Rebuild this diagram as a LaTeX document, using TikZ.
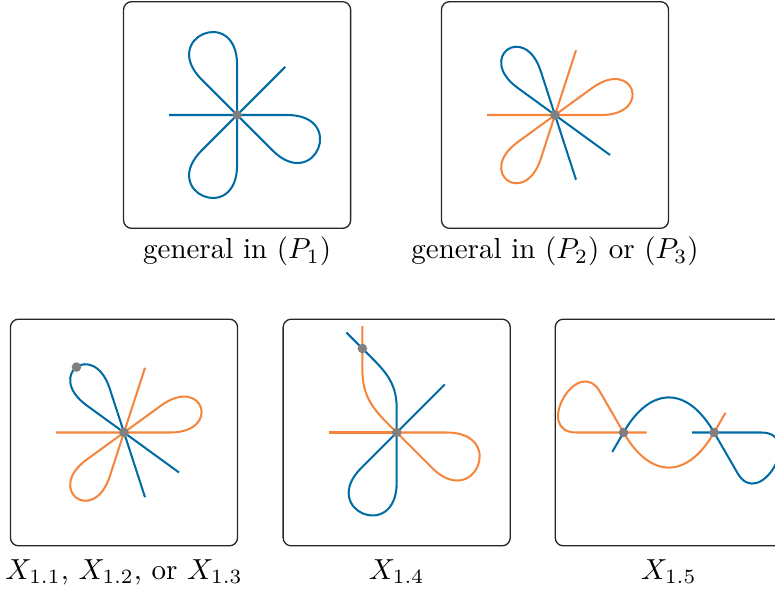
\documentclass[tikz,border=0pt]{standalone}
\usetikzlibrary{calc}
\definecolor{cblue}{HTML}{006BA4}
\definecolor{corange}{HTML}{F5843C}
\definecolor{cgray}{HTML}{808080}
\newcommand{\lobe}[5]{\draw[#1,rotate=#2] (0,0) -- (0:#4) .. controls (0:{#4+#5}) and (#3:{#4+#5}) .. (#3:#4) -- (0,0);}
\begin{document}
\begin{tikzpicture}[x=0.345pt,y=0.345pt,
  panel/.style={draw=black!85,line width=0.45pt,rounded corners=2.8pt,minimum width=78.35pt,minimum height=78.2pt,inner sep=0pt},
  bcurve/.style={cblue,line width=0.7pt},
  ocurve/.style={corange,line width=0.7pt},
  crossdot/.style={circle,fill=cgray,inner sep=0pt,minimum size=3.3pt},
  caption/.style={anchor=base,inner sep=0pt}]
\clip (0,0) rectangle (775,-592);
\path[use as bounding box] (0,0) rectangle (775,-592);

% boxes
\node[panel] (box1) at (237.1,-115) {};
\node[panel] (box2) at (555,-115) {};
\node[panel] (box3) at (124,-432.5) {};
\node[panel] (box4) at (396.7,-432.5) {};
\node[panel] (box5) at (668.8,-432.5) {};

% captions
\node[caption] (cap1) at ($(box1.south)+(0,-30)$) {general in $(P_1)$};
\node[caption] (cap2) at ($(box2.south)+(0,-30)$) {general in $(P_2)$ or $(P_3)$};
\node[caption] (cap3) at ($(box3.south)+(0,-33)$) {$X_{1.1}$, $X_{1.2}$, or $X_{1.3}$};
\node[caption] (cap4) at ($(box4.south)+(0,-33)$) {$X_{1.4}$};
\node[caption] (cap5) at ($(box5.south)+(0,-33)$) {$X_{1.5}$};

% panel 1
\begin{scope}[shift={(box1.center)}]
  \draw[bcurve] (180:68) -- (0,0) -- (45:68);
  \lobe{bcurve}{90}{45}{50}{60}
  \lobe{bcurve}{-45}{45}{50}{60}
  \lobe{bcurve}{225}{45}{50}{60}
  \node[crossdot] (o1) at (0,0) {};
\end{scope}

% panel 2
\begin{scope}[shift={(box2.center)}]
  \draw[ocurve] (180:68) -- (0,0) -- (72:68);
  \lobe{ocurve}{0}{36}{46}{52}
  \lobe{ocurve}{216}{36}{46}{52}
  \draw[bcurve] (288:68) -- (0,0) -- (324:68);
  \lobe{bcurve}{108}{36}{46}{52}
  \node[crossdot] (o2) at (0,0) {};
\end{scope}

% panel 3
\begin{scope}[shift={(box3.center)}]
  \draw[ocurve] (180:68) -- (0,0) -- (72:68);
  \lobe{ocurve}{0}{36}{46}{52}
  \lobe{ocurve}{216}{36}{46}{52}
  \draw[bcurve] (288:68) -- (0,0) -- (324:68);
  \draw[bcurve,rotate=108] (0,0) -- (0:46) .. controls (0:98) and (36:98) .. node[crossdot,pos=0.5] (d3) {} (36:46) -- (0,0);
  \node[crossdot] (o3) at (0,0) {};
\end{scope}

% panel 4
\begin{scope}[shift={(box4.center)}]
  \draw[ocurve] (180:68) -- (0,0);
  \lobe{ocurve}{-45}{45}{50}{60}
  \draw[bcurve] (0,0) -- (45:68);
  \lobe{bcurve}{225}{45}{50}{60}
  \coordinate (q4) at (-34.3,84);
  \draw[ocurve] (0,0) -- (135:12) .. controls (135:32) and (-34.3,36) .. (-34.3,62) -- (-34.3,106.3);
  \draw[bcurve] (0,0) -- (0,24) .. controls (0,52) and (-13.1,62.8) .. (q4) -- (-50.3,100);
  \node[crossdot] (o4) at (0,0) {};
  \node[crossdot] (d4) at (q4) {};
\end{scope}

% panel 5
\begin{scope}[shift={(box5.center)}]
  \coordinate (L) at (-45.3,0);
  \coordinate (R) at (45.3,0);
  \draw[ocurve] ($(L)+(0:23)$) -- (L) -- ($(L)+(180:47)$)
    .. controls ($(L)+(180:91)$) and ($(L)+(120:91)$) .. ($(L)+(120:47)$) -- (L)
    .. controls ($(L)+(-60:54)$) and ($(R)+(240:54)$) .. (R) -- ($(R)+(60:22.8)$);
  \draw[bcurve] ($(L)+(240:22.4)$) -- (L)
    .. controls ($(L)+(60:54)$) and ($(R)+(120:54)$) .. (R) -- ($(R)+(300:47)$)
    .. controls ($(R)+(300:91)$) and ($(R)+(0:91)$) .. ($(R)+(0:47)$) -- (R) -- ($(R)+(180:22)$);
  \node[crossdot] (dL) at (L) {};
  \node[crossdot] (dR) at (R) {};
\end{scope}
\end{tikzpicture}
\end{document}
